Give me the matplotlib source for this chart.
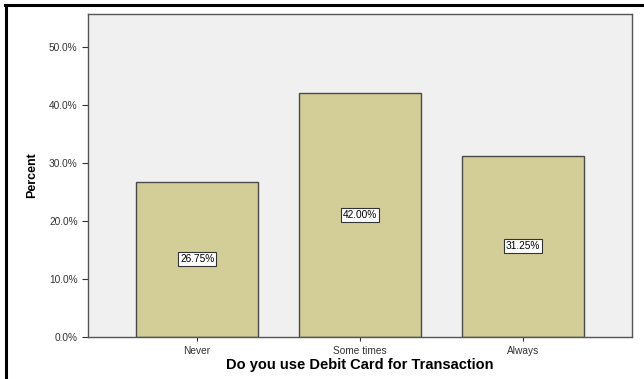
import matplotlib.pyplot as plt
from matplotlib.lines import Line2D
from matplotlib.ticker import PercentFormatter

categories = ["Never", "Some times", "Always"]
percents = [26.75, 42.00, 31.25]
y_ticks = [0, 10, 20, 30, 40, 50]

plt.rcParams['font.family'] = ['Liberation Sans', 'DejaVu Sans']

fig = plt.figure(figsize=(6.44, 3.79), dpi=100)
ax = fig.add_axes([88 / 644, 1 - 337 / 379, 544 / 644, 323 / 379])
ax.set_facecolor('#f0f0f0')

x = range(len(categories))
ax.bar(x, percents, width=0.75, color='#d3ce98', edgecolor='#4a4a4a', linewidth=1.0, zorder=2)

for i, p in enumerate(percents):
    ax.text(i, p / 2, "%.2f%%" % p, ha='center', va='center', fontsize=7.3, zorder=3,
            bbox=dict(boxstyle='square,pad=0.2', fc='white', ec='#333333', lw=0.8))

ax.set_xlim(-0.67, 2.67)
ax.set_ylim(0, 55.7)
ax.set_yticks(y_ticks)
ax.yaxis.set_major_formatter(PercentFormatter(decimals=1))
ax.set_xticks(list(x))
ax.set_xticklabels(categories)
ax.tick_params(axis='both', labelsize=7.3, colors='#333333', length=4, width=0.8)
ax.tick_params(axis='x', direction='inout', length=6)

for side in ['top', 'right', 'left', 'bottom']:
    ax.spines[side].set_color('#555555')
    ax.spines[side].set_linewidth(1.0)

ax.set_ylabel("Percent", fontsize=9, fontweight='bold')
ax.yaxis.set_label_coords(-50 / 544, 0.5)
ax.set_xlabel("Do you use Debit Card for Transaction", fontsize=10.5, fontweight='bold')
ax.xaxis.set_label_coords(0.5, -21 / 323)

# outer frame along the top and left edge
fig.add_artist(Line2D([6 / 644, 6 / 644], [0, 1 - 5 / 379], transform=fig.transFigure, color='black', lw=2.2))
fig.add_artist(Line2D([5 / 644, 1], [1 - 5 / 379, 1 - 5 / 379], transform=fig.transFigure, color='black', lw=2.2))

fig.savefig('out.png', dpi=100)
